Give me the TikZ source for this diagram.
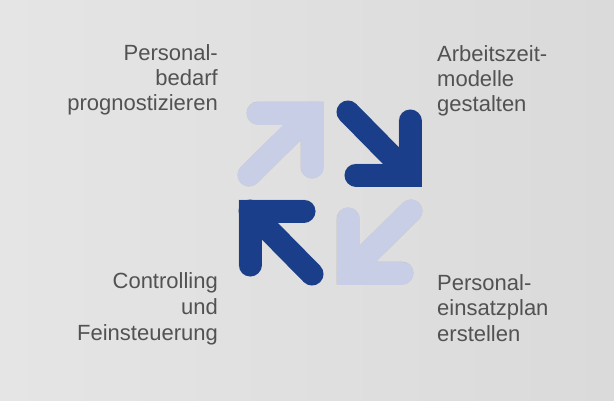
\documentclass[tikz,border=0pt]{standalone}
\usepackage{fontspec}
\setmainfont{Liberation Sans}
\usetikzlibrary{calc}
\definecolor{bgA}{RGB}{229,229,229}
\definecolor{bgB}{RGB}{218,218,218}
\definecolor{lightarrow}{RGB}{200,206,230}
\definecolor{darkarrow}{RGB}{26,62,138}
\definecolor{txt}{RGB}{82,82,82}
\tikzset{
  lbl/.style={font=\fontsize{22}{25}\selectfont, text=txt, inner sep=0pt},
  lblR/.style={lbl, anchor=base east},
  lblL/.style={lbl, anchor=base west},
  arm/.style={line width=23pt, line cap=round, line join=miter},
  shadowarm/.style={line width=23pt, line cap=round, line join=miter, draw=black!70},
}
\newcommand{\cornerarrow}[5]{%
  % #1 colour, #2 corner, #3 arm1 end, #4 arm2 end, #5 shaft end
  \begin{scope}[transparency group, opacity=0.08]
    \begin{scope}[shift={(4,5)}]
      \draw[shadowarm] #3 -- #2 -- #4 #2 -- #5;
    \end{scope}
  \end{scope}
  \begin{scope}[transparency group, opacity=0.12]
    \begin{scope}[shift={(2,3)}]
      \draw[shadowarm] #3 -- #2 -- #4 #2 -- #5;
    \end{scope}
  \end{scope}
  \draw[arm, draw=#1] #3 -- #2 -- #4;
  \draw[arm, draw=#1] #2 -- #5;
}
\begin{document}
\begin{tikzpicture}[x=1pt,y=-1pt]
\useasboundingbox (0,0) rectangle (614,400);
\shade[left color=bgA, right color=bgB] (0,0) rectangle (614,400);
% centre of the pinwheel
\coordinate (c) at (330,193);
% top-left (light, pointing NE)
\coordinate (tlC) at ($(c)+(-18,-80)$);
\cornerarrow{lightarrow}{(tlC)}{($(tlC)+(-54,0)$)}{($(tlC)+(0,54)$)}{($(tlC)+(-63,62)$)}
% top-right (dark, pointing SE)
\coordinate (trC) at ($(c)+(80,-18)$);
\cornerarrow{darkarrow}{(trC)}{($(trC)+(0,-54)$)}{($(trC)+(-54,0)$)}{($(trC)+(-62,-63)$)}
% bottom-right (light, pointing SW)
\coordinate (brC) at ($(c)+(18,80)$);
\cornerarrow{lightarrow}{(brC)}{($(brC)+(54,0)$)}{($(brC)+(0,-54)$)}{($(brC)+(63,-62)$)}
% bottom-left (dark, pointing NW)
\coordinate (blC) at ($(c)+(-80,18)$);
\cornerarrow{darkarrow}{(blC)}{($(blC)+(0,54)$)}{($(blC)+(54,0)$)}{($(blC)+(62,63)$)}
% labels
\node[lblR] (tl1) at (218,60) {Personal-};
\node[lblR] (tl2) at (218,85) {bedarf};
\node[lblR] (tl3) at (218,110) {prognostizieren};
\node[lblL] (tr1) at (437,61) {Arbeitszeit-};
\node[lblL] (tr2) at (437,86) {modelle};
\node[lblL] (tr3) at (437,111) {gestalten};
\node[lblR] (bl1) at (218,288) {Controlling};
\node[lblR] (bl2) at (218,314) {und};
\node[lblR] (bl3) at (218,340) {Feinsteuerung};
\node[lblL] (br1) at (437,290) {Personal-};
\node[lblL] (br2) at (437,315) {einsatzplan};
\node[lblL] (br3) at (437,341) {erstellen};
\end{tikzpicture}
\end{document}
